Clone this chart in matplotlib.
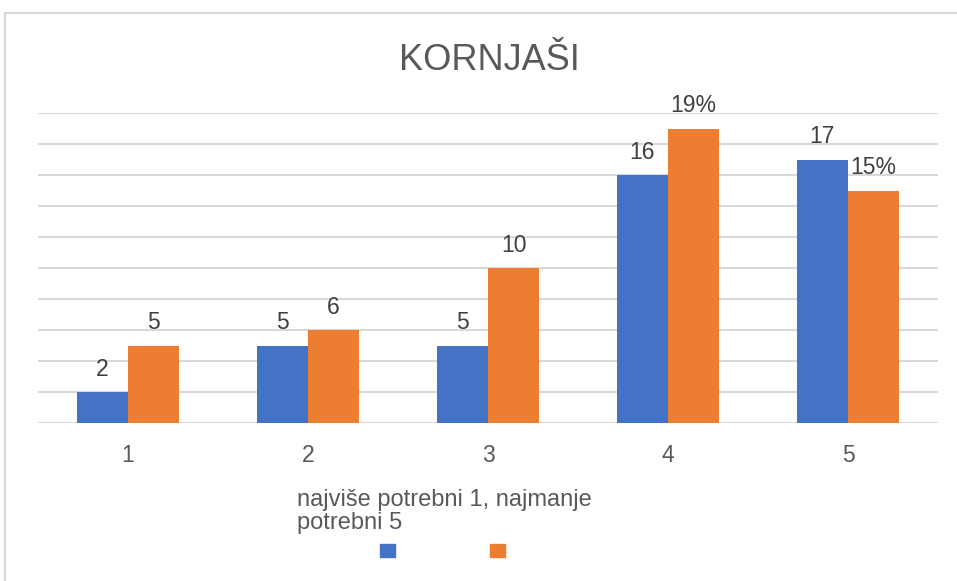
import matplotlib.pyplot as plt
from matplotlib.patches import Patch, Rectangle

plt.rcParams['font.family'] = ['Liberation Sans', 'DejaVu Sans']

# data
categories = ['1', '2', '3', '4', '5']
blue_vals = [2, 5, 5, 16, 17]
orange_vals = [5, 6, 10, 19, 15]
blue_labels = ['2', '5', '5', '16', '17']
orange_labels = ['5', '6', '10', '19%', '15%']

blue = '#4472c4'
orange = '#ed7d31'

fig = plt.figure(figsize=(9.57, 5.81), dpi=100)
ax = fig.add_axes([38 / 957, 1 - 423 / 581, 900 / 957, 310 / 581])

# outer chart frame (cut off at right and bottom in the reference)
fig.patches.append(Rectangle((5 / 957, -0.2), 1.2, 1.2 - 13 / 581,
                             transform=fig.transFigure, fill=False,
                             edgecolor='#d9d9d9', linewidth=1.5))

x = range(len(categories))
w = 0.285
b1 = ax.bar([i - w / 2 for i in x], blue_vals, w, color=blue, zorder=3)
b2 = ax.bar([i + w / 2 for i in x], orange_vals, w, color=orange, zorder=3)

for bars, labs in ((b1, blue_labels), (b2, orange_labels)):
    for bar, lab in zip(bars, labs):
        ax.annotate(lab, (bar.get_x() + bar.get_width() / 2, bar.get_height()),
                    xytext=(0, 8), textcoords='offset points',
                    ha='center', va='bottom', fontsize=16.5, color='#404040')

ax.set_xlim(-0.5, 4.5)
ax.set_ylim(0, 20)
ax.set_yticks(range(0, 21, 2))
ax.set_yticklabels([])
ax.tick_params(axis='y', length=0)
ax.tick_params(axis='x', length=0, pad=15, labelsize=16.5, labelcolor='#595959')
ax.set_xticks(list(x))
ax.set_xticklabels(categories)
ax.grid(axis='y', color='#d9d9d9', linewidth=1.5, zorder=0)
for s in ax.spines.values():
    s.set_visible(False)

fig.text(489 / 957, 1 - 60 / 581, 'KORNJAŠI', ha='center', va='center',
         fontsize=26, color='#595959')

fig.text(297 / 957, 1 - 489 / 581, 'najviše potrebni 1, najmanje\npotrebni 5',
         ha='left', va='top', fontsize=17, color='#595959', linespacing=1.08)

handles = [Patch(color=blue), Patch(color=orange)]
fig.legend(handles, [' ', ' '], ncol=2, frameon=False,
           loc='center', bbox_to_anchor=(450 / 957, 1 - 551 / 581),
           handlelength=1.05, handleheight=1.05, columnspacing=5.8)

fig.savefig('out.png', dpi=100)
